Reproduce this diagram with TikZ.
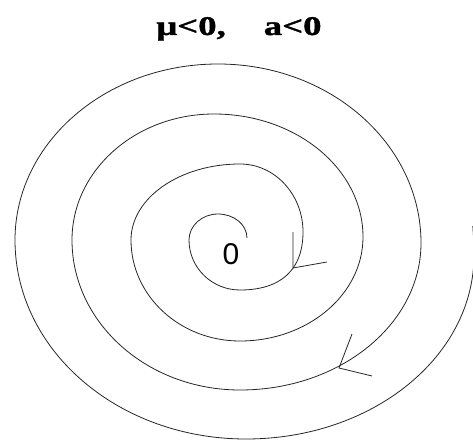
\documentclass[tikz,border=0pt]{standalone}
\usepackage{fontspec}
\usepackage{graphicx}
\setmainfont{Liberation Serif}
\newfontfamily\arialfont{Liberation Sans}
\newfontfamily\titlefont[FakeBold=1.2]{Liberation Serif Bold}
\tikzset{
  spiral/.style={line width=0.8pt, draw=black!85},
  barb/.style={line width=0.8pt, draw=black!85},
  title/.style={inner sep=0pt, anchor=base},
  origin/.style={inner sep=0pt, font=\arialfont\fontsize{30}{32}\selectfont}
}
\begin{document}
\begin{tikzpicture}[x=1pt,y=-1pt]
\useasboundingbox (0,0) rectangle (473,441);
\clip (0,0) rectangle (473,441);
% title
\node[title] (ttl) at (239,35) {\scalebox{1.36}[1]{\titlefont\fontsize{27}{30}\selectfont μ<0,\hspace{28pt}a<0}};
% origin label
\node[origin] (o) at (231,254) {0};
% spiral
\coordinate (s) at (247,238);
\draw[spiral] (s)
  .. controls (247,224.7) and (234,214) .. (218,214)
  .. controls (202,214) and (189,225.6) .. (189,240)
  .. controls (189,267.6) and (211.8,290) .. (240,290)
  .. controls (281,290) and (303,269.7) .. (303,232)
  .. controls (303,194.4) and (274.8,164) .. (240,164)
  .. controls (179.8,164) and (131,198) .. (131,240)
  .. controls (131,295.8) and (179.8,341) .. (240,341)
  .. controls (307.9,341) and (363,294.4) .. (363,237)
  .. controls (363,169.1) and (296.3,114) .. (214,114)
  .. controls (135.6,114) and (72,170.4) .. (72,240)
  .. controls (72,322.8) and (147.2,390) .. (240,390)
  .. controls (340,390) and (421,324.2) .. (421,243)
  .. controls (421,144.1) and (330.1,64) .. (218,64)
  .. controls (105.9,64) and (15,142.8) .. (15,240)
  .. controls (15,350.5) and (118.4,439) .. (246,439)
  .. controls (371.9,439) and (474,357.2) .. (474,255)
  .. controls (474,245) and (473.6,238) .. (472.8,226);
% arrowheads
\coordinate (a1) at (293,268);
\coordinate (a1u) at (293,232);
\coordinate (a1r) at (327,262);
\draw[barb] (a1u) -- (a1) -- (a1r);
\coordinate (a2) at (339,368);
\coordinate (a2u) at (352,334);
\coordinate (a2r) at (372,376);
\draw[barb] (a2u) -- (a2) -- (a2r);
\end{tikzpicture}
\end{document}
